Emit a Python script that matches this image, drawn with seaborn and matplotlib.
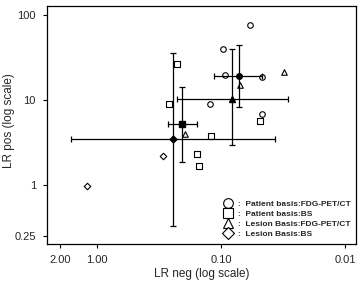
#LR pos vs LR neg scatter with pooled means
import numpy as np
import matplotlib
matplotlib.use('Agg')
import matplotlib.pyplot as plt
import seaborn as sns
import pandas as pd
from matplotlib.lines import Line2D

#Individual studies (LR neg, LR pos)
pt_pet_neg = [0.0584, 0.0964, 0.093, 0.0467, 0.123, 0.0467]
pt_pet_pos = [76.4, 40, 19.9, 18.8, 9.1, 6.8]
pt_bs_neg = [0.226, 0.263, 0.156, 0.150, 0.120, 0.0485]
pt_bs_pos = [26.7, 9.1, 2.3, 1.67, 3.74, 5.75]
ls_pet_neg = [0.031, 0.0703, 0.195]
ls_pet_pos = [21.5, 15.2, 3.95]
ls_bs_neg = [1.2, 0.294]
ls_bs_pos = [0.98, 2.18]

groups = ["Patient basis:FDG-PET/CT", "Patient basis:BS",
          "Lesion Basis:FDG-PET/CT", "Lesion Basis:BS"]
markers = ['o', 's', '^', 'D']

#Pooled estimates with 95% CI
mean_neg = [0.0716, 0.206, 0.0815, 0.244]
neg_lo = [0.0467, 0.156, 0.0288, 0.0367]
neg_hi = [0.114, 0.267, 0.226, 1.62]
mean_pos = [19.4, 5.3, 10.4, 3.45]
pos_lo = [8.2, 1.86, 2.94, 0.33]
pos_hi = [44.6, 14.4, 40, 36]

rows = []
for g, xs, ys in zip(groups, [pt_pet_neg, pt_bs_neg, ls_pet_neg, ls_bs_neg],
                     [pt_pet_pos, pt_bs_pos, ls_pet_pos, ls_bs_pos]):
    for x, y in zip(xs, ys):
        rows.append({'group': g, 'neg': x, 'pos': y})
df = pd.DataFrame(rows)

sns.set_style('ticks')
plt.rcParams['font.family'] = ['Liberation Sans', 'DejaVu Sans']

fig = plt.figure(figsize=(3.59, 2.82), dpi=100)
ax = fig.add_axes([0.131, 0.135, 0.861, 0.844])

ax.set_xscale('log')
ax.set_yscale('log')

for g, m in zip(groups, markers):
    sub = df[df['group'] == g]
    sns.scatterplot(x='neg', y='pos', data=sub, marker=m, color='white',
                    edgecolor='black', linewidth=0.8,
                    s=16 if m != 'D' else 11, ax=ax, legend=False, zorder=3)

for i, m in enumerate(markers):
    xerr = [[mean_neg[i] - neg_lo[i]], [neg_hi[i] - mean_neg[i]]]
    yerr = [[mean_pos[i] - pos_lo[i]], [pos_hi[i] - mean_pos[i]]]
    ax.errorbar([mean_neg[i]], [mean_pos[i]], xerr=xerr, yerr=yerr, fmt=m,
                color='black', ms=4 if m != 'D' else 3.5, lw=0.9, capsize=2,
                capthick=0.9, zorder=4)

ax.set_xlim(2.53, 0.00815)
ax.set_ylim(0.204, 128)
ax.set_xticks([2, 1, 0.1, 0.01])
ax.set_xticklabels(['2.00', '1.00', '0.10', '0.01'])
ax.set_yticks([100, 10, 1, 0.25])
ax.set_yticklabels(['100', '10', '1', '0.25'])
ax.minorticks_off()
ax.tick_params(labelsize=8, length=3, width=0.8, color='black', pad=5)
for s in ax.spines.values():
    s.set_visible(True)
    s.set_color('black')
    s.set_linewidth(0.9)

ax.set_xlabel('LR neg (log scale)', fontsize=8.5, labelpad=2)
ax.set_ylabel('LR pos (log scale)', fontsize=8.5, labelpad=0)
ax.yaxis.set_label_coords(-0.105, 0.52)

handles = [Line2D([], [], marker=m, ls='none', mfc='white', mec='black',
                  ms=7 if m != 'D' else 6, mew=0.8) for m in markers]
ax.legend(handles, [':  ' + g for g in groups], loc='lower right',
          frameon=False, handletextpad=0.1, labelspacing=0.25,
          borderaxespad=0.3, prop={'weight': 'bold', 'size': 6})

plt.savefig('out.png', dpi=100)
